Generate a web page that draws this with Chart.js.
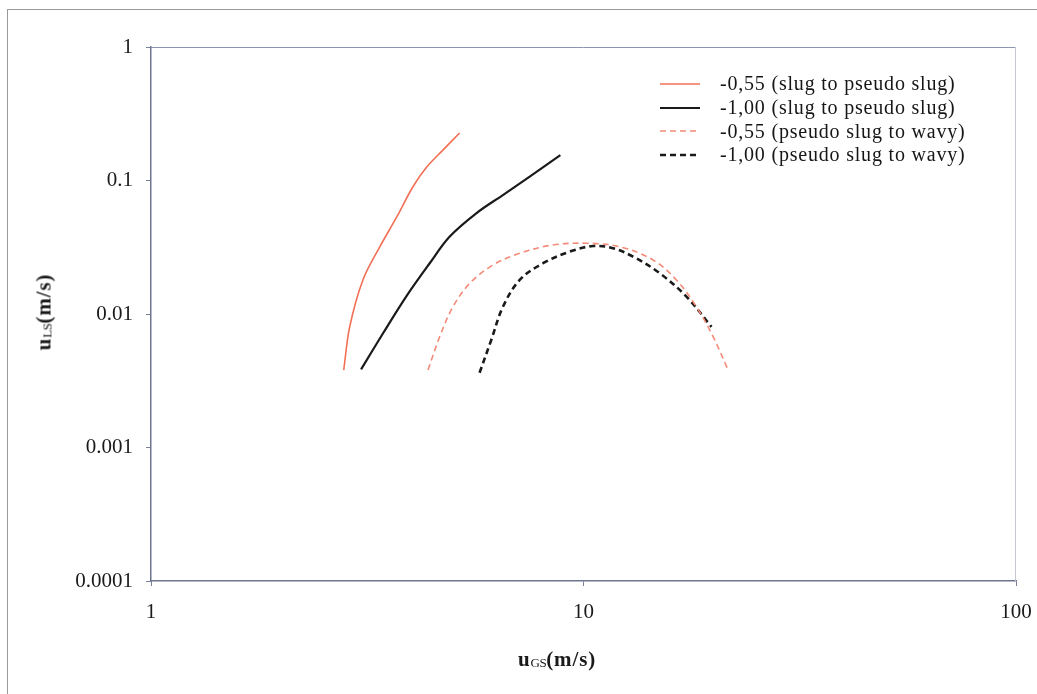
<!DOCTYPE html>
<html>
<head>
<meta charset="utf-8">
<script src="https://cdn.jsdelivr.net/npm/chart.js@4"></script>
<style>
  html, body { margin: 0; padding: 0; background: #fff; }
  #wrap { position: relative; width: 1037px; height: 694px; overflow: hidden; }
  #frame { position: absolute; left: 7px; top: 9px; width: 1040px; height: 700px;
           border-left: 1px solid #9a9a9a; border-top: 1px solid #9a9a9a; }
  canvas { position: absolute; left: 0; top: 0; }
  .title { position: absolute; font-family: "Liberation Serif", serif; font-weight: bold;
           font-size: 21px; color: #1a1a1a; white-space: nowrap; letter-spacing: 0.9px; }
  .title sub { font-size: 13px; vertical-align: -1px; font-weight: normal; letter-spacing: -0.5px; }
  #xt { left: 518px; top: 647px; }
  #yt { left: 44px; top: 312px; transform: translate(-50%, -50%) rotate(-90deg); }
  #legend { position: absolute; left: 660px; top: 72px; font-family: "Liberation Serif", serif;
            font-size: 20px; letter-spacing: 0.8px; color: #161616; }
  .row { display: flex; align-items: center; height: 23.7px; }
  .row svg { margin-right: 20px; }
</style>
</head>
<body>
<div id="wrap">
  <div id="frame"></div>
  <canvas id="c" width="1037" height="694"></canvas>
  <div id="xt" class="title">u<sub>GS</sub>(m/s)</div>
  <div id="yt" class="title">u<sub>LS</sub>(m/s)</div>
  <div id="legend"></div>
</div>
<script>
// ---- data ----
const seriesLabels = [
  "-0,55 (slug to pseudo slug)",
  "-1,00 (slug to pseudo slug)",
  "-0,55 (pseudo slug to wavy)",
  "-1,00 (pseudo slug to wavy)"
];
const redSolidX = [2.79, 2.88, 3.09, 3.38, 3.70, 4.03, 4.34, 4.73, 5.17];
const redSolidY = [0.0038, 0.0080, 0.0180, 0.0318, 0.0533, 0.0894, 0.126, 0.169, 0.227];
const blackSolidX = [3.06, 3.44, 3.89, 4.41, 4.90, 5.65, 6.51, 7.51, 8.84];
const blackSolidY = [0.00385, 0.00717, 0.0135, 0.0240, 0.0379, 0.0568, 0.0778, 0.107, 0.155];
const redDashX = [4.37, 4.65, 4.99, 5.46, 6.18, 7.12, 8.50, 10.15, 12.13, 14.48, 16.40, 18.25, 19.94, 21.60];
const redDashY = [0.0038, 0.00676, 0.0113, 0.0170, 0.0233, 0.0285, 0.0329, 0.0339, 0.0319, 0.0254, 0.0180, 0.0113, 0.00676, 0.0038];
const blackDashX = [5.75, 6.12, 6.51, 7.12, 8.06, 9.29, 10.52, 11.70, 13.02, 15.01, 17.30, 19.77];
const blackDashY = [0.00363, 0.00639, 0.0113, 0.0180, 0.0240, 0.0293, 0.0323, 0.0311, 0.0269, 0.0202, 0.0135, 0.0080];
const xTickValues = [1, 10, 100];
const xTickLabels = ["1", "10", "100"];
const yTickValues = [1, 0.1, 0.01, 0.001, 0.0001];
const yTickLabels = ["1", "0.1", "0.01", "0.001", "0.0001"];

const pts = (xs, ys) => xs.map((x, i) => ({ x: x, y: ys[i] }));
const styles = [
  { color: "#f26f55", width: 1.6, dash: [] },
  { color: "#1a1a1a", width: 2.2, dash: [] },
  { color: "#f58a78", width: 1.6, dash: [6, 4] },
  { color: "#1a1a1a", width: 2.6, dash: [6, 4] }
];
const dataSets = [pts(redSolidX, redSolidY), pts(blackSolidX, blackSolidY),
                  pts(redDashX, redDashY), pts(blackDashX, blackDashY)];

const frame = {
  id: "frame",
  afterDraw(chart) {
    const a = chart.chartArea, ctx = chart.ctx;
    ctx.save();
    ctx.lineWidth = 1;
    ctx.strokeStyle = "#8d95b0";
    ctx.beginPath(); ctx.moveTo(a.left, a.top + 0.5); ctx.lineTo(a.right, a.top + 0.5); ctx.stroke();
    ctx.strokeStyle = "#c4c7d2";
    ctx.beginPath(); ctx.moveTo(a.right - 0.5, a.top); ctx.lineTo(a.right - 0.5, a.bottom); ctx.stroke();
    ctx.restore();
  }
};

const tickFont = { family: "Liberation Serif", size: 21 };
new Chart(document.getElementById("c"), {
  type: "line",
  data: {
    datasets: dataSets.map((d, i) => ({
      label: seriesLabels[i], data: d,
      borderColor: styles[i].color, borderWidth: styles[i].width, borderDash: styles[i].dash,
      pointRadius: 0, tension: 0.35, fill: false
    }))
  },
  options: {
    responsive: false, animation: false, devicePixelRatio: 1,
    layout: { padding: { top: 47, right: 21, left: 0, bottom: 0 } },
    plugins: { legend: { display: false }, tooltip: { enabled: false } },
    scales: {
      x: {
        type: "logarithmic", min: 1, max: 100,
        afterFit(s) { s.height = 113; s.paddingLeft = 0; s.paddingRight = 0; },
        afterBuildTicks(s) { s.ticks = xTickValues.map(v => ({ value: v })); },
        ticks: { color: "#1a1a1a", font: tickFont, padding: 14, maxRotation: 0, autoSkip: false,
                 callback: (v) => xTickLabels[xTickValues.indexOf(v)] },
        grid: { display: true, drawOnChartArea: false, tickLength: 5, color: "#7a8196" },
        border: { color: "#6d7590", width: 1.5 }
      },
      y: {
        type: "logarithmic", min: 0.0001, max: 1,
        afterFit(s) { s.width = 151; s.paddingTop = 0; s.paddingBottom = 0; },
        afterBuildTicks(s) { s.ticks = yTickValues.map(v => ({ value: v })); },
        ticks: { color: "#1a1a1a", font: tickFont, padding: 13, autoSkip: false,
                 callback: (v) => { const i = yTickValues.findIndex(t => Math.abs(Math.log10(t) - Math.log10(v)) < 1e-6); return i >= 0 ? yTickLabels[i] : ""; } },
        grid: { display: true, drawOnChartArea: false, tickLength: 5, color: "#7a8196" },
        border: { color: "#6d7590", width: 1.5 }
      }
    }
  },
  plugins: [frame]
});

// HTML legend built from the series labels and styles
const lg = document.getElementById("legend");
seriesLabels.forEach((lab, i) => {
  const row = document.createElement("div");
  row.className = "row";
  const st = styles[i];
  row.innerHTML = '<svg width="40" height="6"><line x1="0" y1="3" x2="40" y2="3" stroke="' + st.color +
    '" stroke-width="' + st.width + '"' + (st.dash.length ? ' stroke-dasharray="' + st.dash.join(",") + '"' : "") +
    '/></svg><span>' + lab + '</span>';
  lg.appendChild(row);
});
</script>
</body>
</html>
